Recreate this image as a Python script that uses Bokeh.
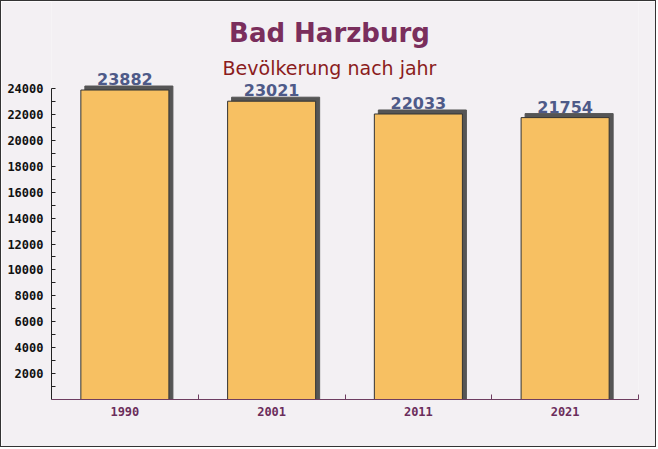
from bokeh.plotting import figure
from bokeh.models import FixedTicker, Range1d, Label, LinearAxis, LabelSet, ColumnDataSource
from bokeh.core.properties import value
from bokeh.embed import file_html
from bokeh.resources import INLINE

years = ["1990", "2001", "2011", "2021"]
population = [23882, 23021, 22033, 21754]
y_ticks = list(range(2000, 24001, 2000))
y_minor = list(range(1000, 24000, 2000))

W, H = 656, 447
left, right, top, bottom = 50, 19, 0, 49
frame_w = W - left - right
frame_h = H - top - bottom
y_end = 30714
n = len(years)

xs = [i + 0.5 for i in range(n)]
dx = 4 * n / frame_w
dy = 4 * y_end / frame_h

p = figure(width=W, height=H, output_backend="svg", toolbar_location=None,
           x_range=Range1d(0, n), y_range=Range1d(0, y_end),
           min_border_left=left, min_border_right=right,
           min_border_top=top, min_border_bottom=bottom,
           x_axis_type=None, y_axis_type=None)
p.title.visible = False
p.styles = {"border": "1px solid #333"}
p.background_fill_color = "#f3f0f3"
p.border_fill_color = "#f3f0f3"
p.outline_line_color = None
p.xgrid.visible = False
p.ygrid.visible = False

# shadow
p.vbar(x=[x + dx for x in xs], top=[v + dy for v in population], bottom=0,
       width=0.6, fill_color="#555555", line_color="#555555")
p.vbar(x=xs, top=population, bottom=0, width=0.6,
       fill_color="#f7c062", line_color="#333333", line_width=1)

src = ColumnDataSource(dict(x=xs, y=population, t=[str(v) for v in population]))
labels = LabelSet(x="x", y="y", text="t", source=src, y_offset=5,
                  text_align="center", text_baseline="bottom", level="overlay",
                  text_font=value("DejaVu Sans"), text_font_style=value("bold"),
                  text_font_size=value("16px"), text_color=value("#4e5a88"))
p.add_layout(labels)

yaxis = LinearAxis(ticker=FixedTicker(ticks=y_ticks, minor_ticks=y_minor),
                   bounds=(0, 24000))
yaxis.axis_line_color = "#222222"
yaxis.major_tick_line_color = "#222222"
yaxis.minor_tick_line_color = "#222222"
yaxis.major_tick_in = 4
yaxis.major_tick_out = 0
yaxis.minor_tick_in = 4
yaxis.minor_tick_out = 0
yaxis.major_label_standoff = 8
yaxis.major_label_text_font = "DejaVu Sans Mono"
yaxis.major_label_text_font_style = "bold"
yaxis.major_label_text_font_size = "12px"
yaxis.major_label_text_color = "#111111"
p.add_layout(yaxis, "left")

xaxis = LinearAxis(ticker=FixedTicker(ticks=xs, minor_ticks=[i + 1 for i in range(n)]))
xaxis.major_label_overrides = {x: y for x, y in zip(xs, years)}
xaxis.axis_line_color = "#6e3d60"
xaxis.major_tick_line_color = None
xaxis.major_tick_in = 0
xaxis.major_tick_out = 0
xaxis.minor_tick_line_color = "#6e3d60"
xaxis.minor_tick_in = 5
xaxis.minor_tick_out = 0
xaxis.major_label_standoff = 7
xaxis.major_label_text_font = "DejaVu Sans Mono"
xaxis.major_label_text_font_style = "bold"
xaxis.major_label_text_font_size = "12px"
xaxis.major_label_text_color = "#6b2d5b"
p.add_layout(xaxis, "below")

title = Label(x=278, y=367, x_units="screen", y_units="screen", text="Bad Harzburg",
              text_align="center", text_baseline="middle",
              text_font="DejaVu Sans", text_font_style="bold", text_font_size="26px",
              text_color="#7a2e5c")
subtitle = Label(x=278, y=332, x_units="screen", y_units="screen",
                 text="Bevölkerung nach jahr", text_align="center", text_baseline="middle",
                 text_font="DejaVu Sans", text_font_size="19px", text_color="#8b1c1c")
p.add_layout(title)
p.add_layout(subtitle)

open("out.html", "w").write(file_html(p, INLINE))
